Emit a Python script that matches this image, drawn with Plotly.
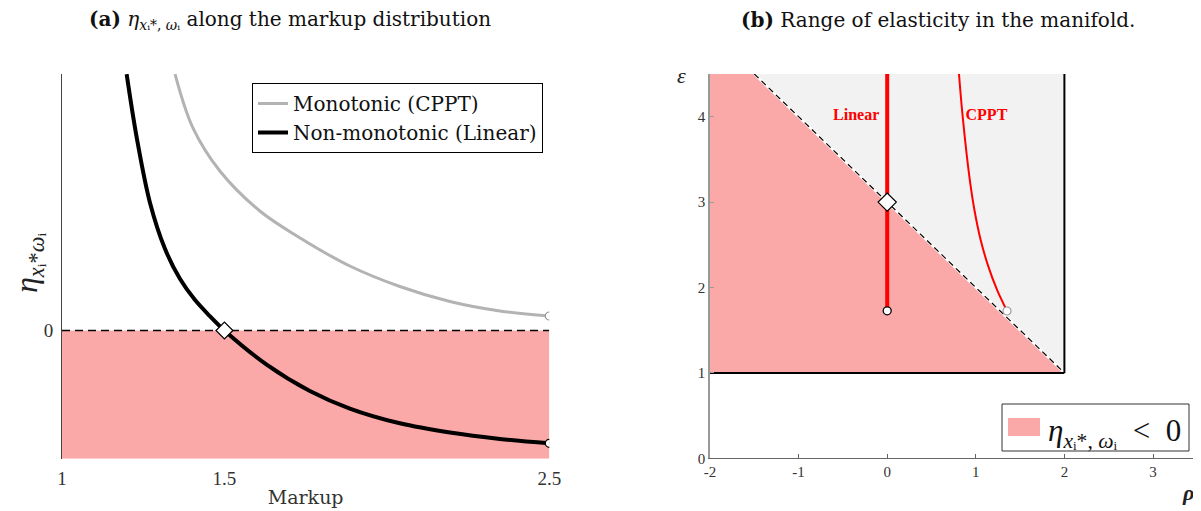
import plotly.graph_objects as go

# ---------------- data: panel (a) ----------------
markup_linear = [1.199, 1.231, 1.271, 1.317, 1.363, 1.409, 1.456, 1.5, 1.631, 1.763, 1.886, 2.040, 2.194, 2.348, 2.5]
eta_linear = [2.0, 1.491, 0.995, 0.637, 0.403, 0.239, 0.110, 0.0, -0.268, -0.472, -0.609, -0.724, -0.796, -0.846, -0.880]

markup_cppt = [1.348, 1.403, 1.486, 1.609, 1.733, 1.886, 2.040, 2.194, 2.348, 2.5]
eta_cppt = [2.0, 1.580, 1.244, 0.932, 0.722, 0.503, 0.343, 0.226, 0.152, 0.113]

neg_x = [1.0, 2.5, 2.5, 1.0, 1.0]
neg_y = [0.0, 0.0, -1.0, -1.0, 0.0]
zero_x = [1.0, 2.5]
zero_y = [0.0, 0.0]
cross_pt = (1.5, 0.0)
xticks_a = [1, 1.5, 2.5]
yticks_a = [0]

# ---------------- data: panel (b) ----------------
rho_neg = [-2.0, 2.0, -1.5, -2.0, -2.0]
eps_neg = [1.0, 1.0, 4.5, 4.5, 1.0]
rho_pos = [-1.5, 2.0, 2.0, -1.5]
eps_pos = [4.5, 1.0, 4.5, 4.5]
rho_bound = [-1.5, 2.0]
eps_bound = [4.5, 1.0]
rho_floor = [-2.0, 2.0]
eps_floor = [1.0, 1.0]
rho_wall = [2.0, 2.0]
eps_wall = [1.0, 4.5]

rho_linear = [0.0, 0.0]
eps_linear = [1.727, 4.5]
rho_cppt = [0.810, 0.852, 0.927, 0.984, 1.055, 1.142, 1.240, 1.352]
eps_cppt = [4.5, 4.0, 3.30, 2.91, 2.556, 2.244, 1.971, 1.725]
diamond_b = (0.0, 3.0)
xticks_b = [-2, -1, 0, 1, 2, 3]
xticklabels_b = ["-2", "-1", "0", "1", "2", "3"]
yticks_b = [0, 1, 2, 3, 4]
label_rho = [-0.35, 1.12]
label_eps = [4.01, 4.01]
label_txt = ["<b>Linear</b>", "<b>CPPT</b>"]

PINK = "#FBA8A8"
GREY_FILL = "#F2F2F2"
SERIF = "Liberation Serif"
SERIF2 = "DejaVu Serif"

fig = go.Figure()

# ----- panel (a) -----
fig.add_trace(go.Scatter(x=neg_x, y=neg_y, fill="toself", fillcolor=PINK, mode="none",
                         showlegend=False, hoverinfo="skip", xaxis="x", yaxis="y"))
fig.add_trace(go.Scatter(x=zero_x, y=zero_y, mode="lines", line=dict(color="black", width=1.3, dash="8px,5px"),
                         showlegend=False, xaxis="x", yaxis="y"))
fig.add_trace(go.Scatter(x=markup_cppt, y=eta_cppt, mode="lines", line=dict(color="#B3B3B3", width=3, shape="spline"),
                         name="Monotonic (CPPT)", xaxis="x", yaxis="y"))
fig.add_trace(go.Scatter(x=markup_linear, y=eta_linear, mode="lines", line=dict(color="black", width=4, shape="spline"),
                         name="Non-monotonic (Linear)", xaxis="x", yaxis="y"))
fig.add_trace(go.Scatter(x=[markup_cppt[-1]], y=[eta_cppt[-1]], mode="markers",
                         marker=dict(symbol="circle", size=8, color="white", line=dict(color="#999999", width=1.2)),
                         showlegend=False, xaxis="x", yaxis="y"))
fig.add_trace(go.Scatter(x=[markup_linear[-1]], y=[eta_linear[-1]], mode="markers",
                         marker=dict(symbol="circle", size=8, color="white", line=dict(color="black", width=1.3)),
                         showlegend=False, xaxis="x", yaxis="y"))
fig.add_trace(go.Scatter(x=[cross_pt[0]], y=[cross_pt[1]], mode="markers",
                         marker=dict(symbol="diamond", size=13, color="white", line=dict(color="black", width=1.2)),
                         showlegend=False, xaxis="x", yaxis="y"))

# ----- panel (b) -----
fig.add_trace(go.Scatter(x=rho_pos, y=eps_pos, fill="toself", fillcolor=GREY_FILL, mode="none",
                         showlegend=False, hoverinfo="skip", xaxis="x2", yaxis="y2"))
fig.add_trace(go.Scatter(x=rho_neg, y=eps_neg, fill="toself", fillcolor=PINK, mode="none",
                         showlegend=False, hoverinfo="skip", xaxis="x2", yaxis="y2"))
fig.add_trace(go.Scatter(x=rho_bound, y=eps_bound, mode="lines", line=dict(color="white", width=2.5),
                         showlegend=False, xaxis="x2", yaxis="y2"))
fig.add_trace(go.Scatter(x=rho_bound, y=eps_bound, mode="lines", line=dict(color="black", width=1.2, dash="6px,4px"),
                         showlegend=False, xaxis="x2", yaxis="y2"))
fig.add_trace(go.Scatter(x=rho_floor, y=eps_floor, mode="lines", line=dict(color="black", width=2),
                         showlegend=False, xaxis="x2", yaxis="y2"))
fig.add_trace(go.Scatter(x=rho_wall, y=eps_wall, mode="lines", line=dict(color="black", width=2),
                         showlegend=False, xaxis="x2", yaxis="y2"))
fig.add_trace(go.Scatter(x=rho_linear, y=eps_linear, mode="lines", line=dict(color="#FF0000", width=4),
                         showlegend=False, xaxis="x2", yaxis="y2"))
fig.add_trace(go.Scatter(x=rho_cppt, y=eps_cppt, mode="lines", line=dict(color="#FF0000", width=2, shape="spline"),
                         showlegend=False, xaxis="x2", yaxis="y2"))
fig.add_trace(go.Scatter(x=[rho_linear[0]], y=[eps_linear[0]], mode="markers",
                         marker=dict(symbol="circle", size=8, color="white", line=dict(color="black", width=1.3)),
                         showlegend=False, xaxis="x2", yaxis="y2"))
fig.add_trace(go.Scatter(x=[rho_cppt[-1]], y=[eps_cppt[-1]], mode="markers",
                         marker=dict(symbol="circle", size=8, color="white", line=dict(color="#999999", width=1.2)),
                         showlegend=False, xaxis="x2", yaxis="y2"))
fig.add_trace(go.Scatter(x=[diamond_b[0]], y=[diamond_b[1]], mode="markers",
                         marker=dict(symbol="diamond", size=14, color="white", line=dict(color="black", width=1.2)),
                         showlegend=False, xaxis="x2", yaxis="y2"))
fig.add_trace(go.Scatter(x=label_rho, y=label_eps, mode="text", text=label_txt,
                         textfont=dict(family=SERIF, size=16, color="#FF0000"),
                         showlegend=False, xaxis="x2", yaxis="y2"))

# the page puts the figure 8 px in from the top-left corner
OX, OY = 8, 8
W, H = 1201 - OX, 511 - OY
def px(x): return (x - OX) / W
def py(y): return (H - (y - OY)) / H

fig.update_layout(
    width=W, height=H,
    margin=dict(l=0, r=0, t=0, b=0, autoexpand=False),
    plot_bgcolor="rgba(0,0,0,0)", paper_bgcolor="white",
    font=dict(family=SERIF, color="#333333"),
    xaxis=dict(domain=[px(62), px(549.3)], range=[1, 2.5], tickvals=xticks_a,
               ticktext=[str(v) for v in xticks_a], showgrid=False, zeroline=False,
               showline=False, ticks="", tickfont=dict(size=19, color="#333"), ticklabelstandoff=6,
               title=dict(text="Markup", font=dict(family=SERIF2, size=19, color="#333"), standoff=2)),
    yaxis=dict(domain=[py(458.7), py(74.1)], range=[-1, 2], tickvals=yticks_a,
               ticktext=["0"], showgrid=False, zeroline=False, showline=True, linecolor="#444",
               linewidth=1, ticks="", tickfont=dict(size=19, color="#333"), ticklabelstandoff=4),
    xaxis2=dict(domain=[px(710), px(1197.3)], range=[-2, 3.5], tickvals=xticks_b, ticktext=xticklabels_b,
                showgrid=False, zeroline=False, showline=True, linecolor="#666", linewidth=1,
                ticks="inside", ticklen=4, tickcolor="#666", tickfont=dict(size=15, color="#333"),
                anchor="y2"),
    yaxis2=dict(domain=[py(458.3), py(74)], range=[0, 4.5], tickvals=yticks_b,
                showgrid=False, zeroline=False, showline=True, linecolor="#999", linewidth=1.5,
                ticks="inside", ticklen=4, tickcolor="#999", tickfont=dict(size=15, color="#333"),
                anchor="x2"),
    legend=dict(x=px(252), y=py(83), xanchor="left", yanchor="top", bgcolor="white",
                bordercolor="black", borderwidth=1, font=dict(family=SERIF2, size=20, color="#111"),
                tracegroupgap=0, itemwidth=30),
    showlegend=True,
)

# Titles, axis symbols and the panel-(b) legend box
fig.add_annotation(x=px(290), y=py(20), xref="paper", yref="paper", showarrow=False,
                   xanchor="center", yanchor="middle",
                   text="<b>(a)</b> <i>η</i><sub><i>x</i>ᵢ*, <i>ω</i>ᵢ</sub> along the markup distribution",
                   font=dict(family=SERIF2, size=20, color="#111"))
fig.add_annotation(x=px(938), y=py(20), xref="paper", yref="paper", showarrow=False,
                   xanchor="center", yanchor="middle",
                   text="<b>(b)</b> Range of elasticity in the manifold.",
                   font=dict(family=SERIF2, size=20, color="#111"))
fig.add_annotation(x=px(29), y=py(263), xref="paper", yref="paper", showarrow=False, textangle=-90,
                   xanchor="center", yanchor="middle",
                   text="<i>η</i><sub><i>x</i>ᵢ*<i>ω</i>ᵢ</sub>",
                   font=dict(family=SERIF, size=32, color="#222"))
fig.add_annotation(x=px(681), y=py(75), xref="paper", yref="paper", showarrow=False,
                   xanchor="center", yanchor="middle",
                   text="<i>ε</i>", font=dict(family=SERIF, size=22, color="#222"))
fig.add_annotation(x=px(1188), y=py(492), xref="paper", yref="paper", showarrow=False,
                   xanchor="center", yanchor="middle",
                   text="<b><i>ρ</i></b>", font=dict(family=SERIF, size=22, color="#222"))

fig.add_shape(type="rect", xref="paper", yref="paper", x0=px(1002), x1=px(1189), y0=py(451), y1=py(404),
              line=dict(color="#333", width=1), fillcolor="white", layer="above")
fig.add_shape(type="rect", xref="paper", yref="paper", x0=px(1008), x1=px(1040), y0=py(436), y1=py(418),
              line=dict(width=0), fillcolor=PINK, layer="above")
fig.add_annotation(x=px(1046), y=py(433), xref="paper", yref="paper", showarrow=False,
                   xanchor="left", yanchor="middle",
                   text="<i>η</i><sub><i>x</i>ᵢ*, <i>ω</i>ᵢ</sub>  &lt;  0",
                   font=dict(family=SERIF, size=31, color="#111"))

fig.write_html("out.html")
